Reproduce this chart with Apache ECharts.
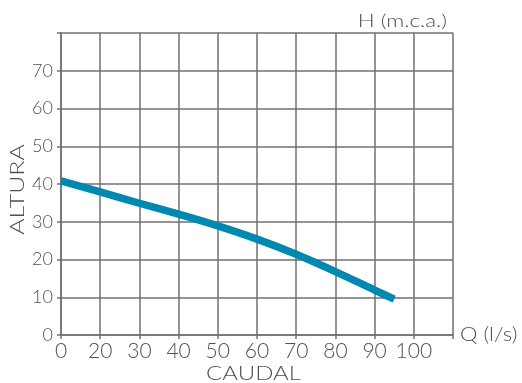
<!DOCTYPE html>
<html>
<head>
<meta charset="utf-8">
<script src="https://cdn.jsdelivr.net/npm/echarts@6/dist/echarts.min.js"></script>
<style>html,body{margin:0;padding:0;background:#fff}#c{width:522px;height:383px}</style>
</head>
<body>
<div id="c"></div>
<script>
// x positions are grid columns; tick labels printed under each column line
var xTickLabels = ['0','20','30','40','50','60','70','80','90','100',''];
var yTickLabels = ['0','10','20','30','40','50','60','70',''];
var curveX = [0, 1, 2, 3, 4, 5, 6, 7, 8, 8.5];
var curveH = [40.8, 37.9, 34.9, 32.0, 28.9, 25.4, 21.4, 16.8, 11.9, 9.5];
var xName = 'Q (l/s)';
var yName = 'H (m.c.a.)';
var xTitle = 'CAUDAL';
var yTitle = 'ALTURA';

var FONT = 'Lato';
var TXT = '#505050';
var GRIDC = '#717171';
var chart = echarts.init(document.getElementById('c'));
var data = curveX.map(function(x,i){return [x, curveH[i]];});
chart.setOption({
  animation:false,
  grid:{left:61, top:33, right:69, bottom:48},
  xAxis:{
    type:'value', min:0, max:10, interval:1,
    axisLine:{show:true, lineStyle:{color:GRIDC, width:1.5}},
    axisTick:{show:true, length:4, lineStyle:{color:GRIDC, width:1.5}},
    splitLine:{show:true, lineStyle:{color:GRIDC, width:1.5}},
    axisLabel:{color:TXT, fontFamily:FONT, fontWeight:300, fontSize:21, margin:6,
      formatter:function(v){return xTickLabels[Math.round(v)]||'';}}
  },
  yAxis:{
    type:'value', min:0, max:80, interval:10,
    axisLine:{show:true, lineStyle:{color:GRIDC, width:1.5}},
    axisTick:{show:true, length:4, lineStyle:{color:GRIDC, width:1.5}},
    splitLine:{show:true, lineStyle:{color:GRIDC, width:1.5}},
    axisLabel:{color:TXT, fontFamily:FONT, fontWeight:300, fontSize:18, margin:8,
      formatter:function(v){return yTickLabels[Math.round(v/10)]||'';}}
  },
  graphic:[
    {type:'text', x:447, y:21, scaleX:1.21, style:{text:yName, fill:TXT, font:'300 18.5px '+FONT, textAlign:'right', textVerticalAlign:'middle'}},
    {type:'text', x:460, y:335, scaleX:1.16, style:{text:xName, fill:TXT, font:'300 19px '+FONT, textAlign:'left', textVerticalAlign:'middle'}},
    {type:'text', x:253.5, y:374, scaleX:1.2, style:{text:xTitle, fill:TXT, font:'300 20px '+FONT, textAlign:'center', textVerticalAlign:'middle'}},
    {type:'text', x:18, y:189.5, rotation:Math.PI/2, scaleX:1.28, style:{text:yTitle, fill:TXT, font:'300 19.5px '+FONT, textAlign:'center', textVerticalAlign:'middle'}}
  ],
  series:[{
    type:'line', data:data, smooth:0.3, showSymbol:false,
    lineStyle:{color:'#0089b0', width:7.5, cap:'butt'}
  }]
});
</script>
</body>
</html>
